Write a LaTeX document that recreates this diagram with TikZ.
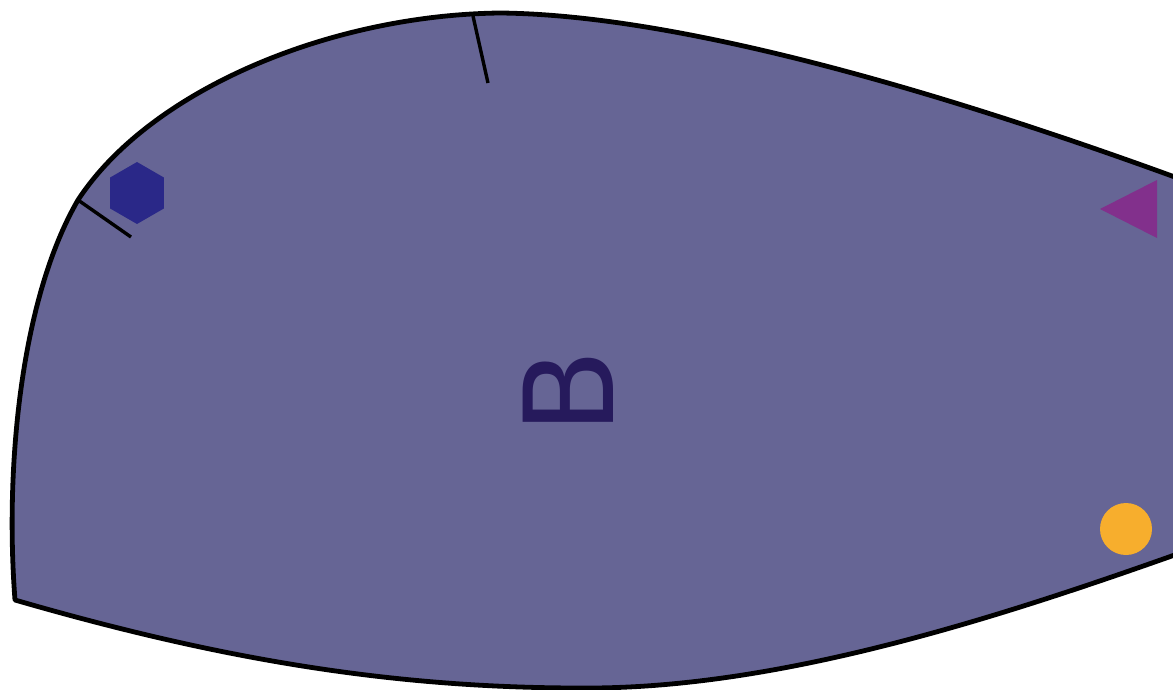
\documentclass[tikz,border=0pt]{standalone}
\usepackage{fontspec}
\newfontfamily\blobfont{DejaVu Sans}
\definecolor{blobfill}{RGB}{102,101,149}
\definecolor{hexblue}{RGB}{42,40,136}
\definecolor{triviolet}{RGB}{130,48,140}
\definecolor{dotorange}{RGB}{247,174,45}
\definecolor{letterdark}{RGB}{38,26,92}
\tikzset{
  blobline/.style={draw=black, fill=blobfill, line width=2.4pt, line join=round},
  tickline/.style={black, line width=1.7pt},
}
\begin{document}
\begin{tikzpicture}[x=0.5pt, y=-0.5pt]
  % Frame
  \useasboundingbox (0,0) rectangle (1173,690);
  \clip (0,0) rectangle (1173,690);
  % Points on the outline
  \coordinate (BL) at (15,600);
  \coordinate (L)  at (78,200);
  \coordinate (T)  at (500,13);
  \coordinate (TR) at (1250,205);
  \coordinate (BR) at (1250,528);
  \coordinate (B)  at (580,688);
  % Region
  \path[blobline] (BL) .. controls (5,470) and (20,300) .. (L)
    .. controls (150,90) and (330,15) .. (T)
    .. controls (700,15) and (1000,110) .. (TR)
    -- (BR)
    .. controls (1050,600) and (800,690) .. (B)
    .. controls (380,688) and (205,655) .. cycle;
  % Ticks on the outline
  \draw[tickline] (L) -- (131,237);
  \draw[tickline] (473,16) -- (488,83);
  % Markers
  \fill[hexblue, shift={(137,193)}] (90:31) -- (150:31) -- (210:31)
    -- (270:31) -- (330:31) -- (30:31) -- cycle;
  \fill[triviolet] (1157,180) -- (1157,238) -- (1100,209) -- cycle;
  \fill[dotorange] (1126,529) circle (26);
  % Label
  \node[text=letterdark, rotate=90, inner sep=0pt,
    font=\blobfont\fontsize{62}{62}\selectfont] (lbl) at (568,392) {B};
\end{tikzpicture}
\end{document}
